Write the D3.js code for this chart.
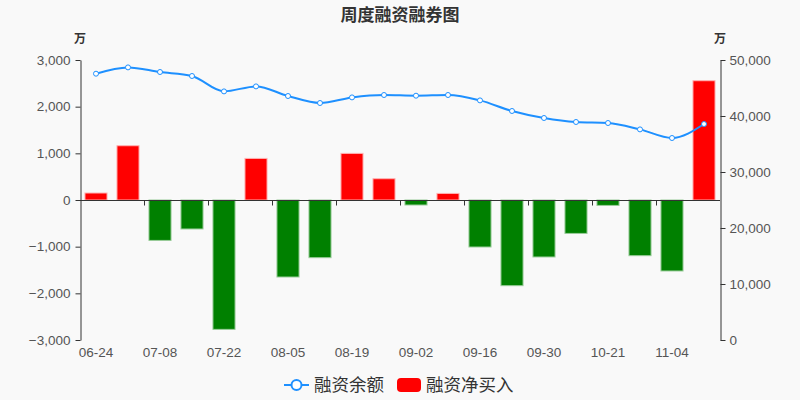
<!DOCTYPE html>
<html><head><meta charset="utf-8">
<script src="https://cdn.jsdelivr.net/npm/d3@7/dist/d3.min.js"></script>
<style>
html,body{margin:0;padding:0;background:#f9f9f9;}
svg{display:block;}
</style></head>
<body><svg id="c" width="800" height="400"></svg>
<script>
const categories = ["06-24","07-01","07-08","07-15","07-22","07-29","08-05","08-12","08-19","08-26","09-02","09-09","09-16","09-23","09-30","10-14","10-21","10-28","11-04","11-11"];
const netBuy = [150,1163,-866,-621,-2772,891,-1650,-1236,999,456,-107,141,-1007,-1836,-1221,-716,-116,-1193,-1521,2556];
const balance = [47554,48680,47857,47143,44393,45286,43571,42321,43321,43750,43625,43750,42786,40893,39643,38929,38750,37607,36071,38571];
const leftTicks = [-3000,-2000,-1000,0,1000,2000,3000];
const rightTicks = [0,10000,20000,30000,40000,50000];
const title = "周度融资融券图";
const unit = "万";
const seriesNames = ["融资余额","融资净买入"];

const svg = d3.select("#c");
const W=800,H=400, L=80.5, R=720.5, T=60, B=340;
const cjk = "'Noto Sans CJK SC','Noto Sans',sans-serif";
const lat = "'Liberation Sans',Arial,sans-serif";
svg.append("rect").attr("width",W).attr("height",H).attr("fill","#f9f9f9");

const x = d3.scaleBand().domain(categories).range([80,720]).paddingInner(0.31).paddingOuter(0.155);
const xc = d => x(d)+x.bandwidth()/2;
const yL = d3.scaleLinear().domain([-3000,3000]).range([B,T]);
const yR = d3.scaleLinear().domain([0,50000]).range([B,T]);

// bars
svg.append("g").selectAll("rect").data(netBuy).join("rect")
  .attr("x",(d,i)=>x(categories[i]))
  .attr("width",x.bandwidth())
  .attr("y",d=>d>=0?yL(d):yL(0))
  .attr("height",d=>Math.abs(yL(d)-yL(0)))
  .attr("fill",d=>d>=0?"#ff0000":"#008000")
  .attr("stroke",d=>d>=0?"#ffb3b3":"#99cc99")
  .attr("stroke-width",1);

// left axis
const gl = svg.append("g").attr("transform",`translate(${L},0)`)
  .call(d3.axisLeft(yL).tickValues(leftTicks).tickFormat(d3.format(",")).tickSize(5).tickSizeOuter(0));
gl.select(".domain").attr("stroke","#333");
gl.selectAll(".tick line").attr("stroke","#333");
gl.selectAll("text").attr("fill","#555").attr("font-size",13.5).attr("font-family",lat).attr("dx","-2");

// right axis
const gr = svg.append("g").attr("transform",`translate(${R},0)`)
  .call(d3.axisRight(yR).tickValues(rightTicks).tickFormat(d3.format(",")).tickSize(5).tickSizeOuter(0));
gr.select(".domain").attr("stroke","#333");
gr.selectAll(".tick line").attr("stroke","#333");
gr.selectAll("text").attr("fill","#555").attr("font-size",13.5).attr("font-family",lat).attr("dx","1");

// x axis at zero
const y0 = Math.round(yL(0))+0.5;
svg.append("line").attr("x1",80).attr("x2",720).attr("y1",y0).attr("y2",y0).attr("stroke","#333");
const tickIdx = categories.map((c,i)=>i).filter(i=>i%2===0 && i>0);
svg.append("g").selectAll("line").data(tickIdx).join("line")
  .attr("x1",i=>Math.round(80+i*x.step())+0.5).attr("x2",i=>Math.round(80+i*x.step())+0.5)
  .attr("y1",y0).attr("y2",y0+5).attr("stroke","#333");
svg.append("g").selectAll("text").data(categories.filter((c,i)=>i%2===0)).join("text")
  .attr("x",d=>xc(d)).attr("y",357).attr("text-anchor","middle")
  .attr("font-size",13.5).attr("font-family",lat).attr("fill","#555").text(d=>d);

// line
const line = d3.line().x((d,i)=>xc(categories[i])).y(d=>yR(d)).curve(d3.curveMonotoneX);
svg.append("path").datum(balance).attr("d",line).attr("fill","none").attr("stroke","#1e90ff").attr("stroke-width",2);
svg.append("g").selectAll("circle").data(balance).join("circle")
  .attr("cx",(d,i)=>xc(categories[i])).attr("cy",d=>yR(d)).attr("r",2.5)
  .attr("fill","#fff").attr("stroke","#1e90ff").attr("stroke-width",1);

// title & units
svg.append("text").attr("x",400).attr("y",21).attr("text-anchor","middle")
  .attr("font-size",17).attr("font-weight","bold").attr("font-family",cjk).attr("fill","#333").text(title);
svg.append("text").attr("x",80).attr("y",43).attr("text-anchor","middle")
  .attr("font-size",12).attr("font-weight","bold").attr("font-family",cjk).attr("fill","#333").text(unit);
svg.append("text").attr("x",720).attr("y",43).attr("text-anchor","middle")
  .attr("font-size",12).attr("font-weight","bold").attr("font-family",cjk).attr("fill","#333").text(unit);

// legend
const lg = svg.append("g");
lg.append("line").attr("x1",284).attr("x2",309).attr("y1",385).attr("y2",385).attr("stroke","#1e90ff").attr("stroke-width",2);
lg.append("circle").attr("cx",296.5).attr("cy",385).attr("r",5).attr("fill","#fff").attr("stroke","#1e90ff").attr("stroke-width",2);
lg.append("text").attr("x",314).attr("y",391).attr("font-size",17.5).attr("font-family",cjk).attr("fill","#333").text(seriesNames[0]);
lg.append("rect").attr("x",397).attr("y",378).attr("width",24).attr("height",14).attr("rx",4).attr("fill","#ff0000");
lg.append("text").attr("x",426).attr("y",391).attr("font-size",17.5).attr("font-family",cjk).attr("fill","#333").text(seriesNames[1]);
</script></body></html>
